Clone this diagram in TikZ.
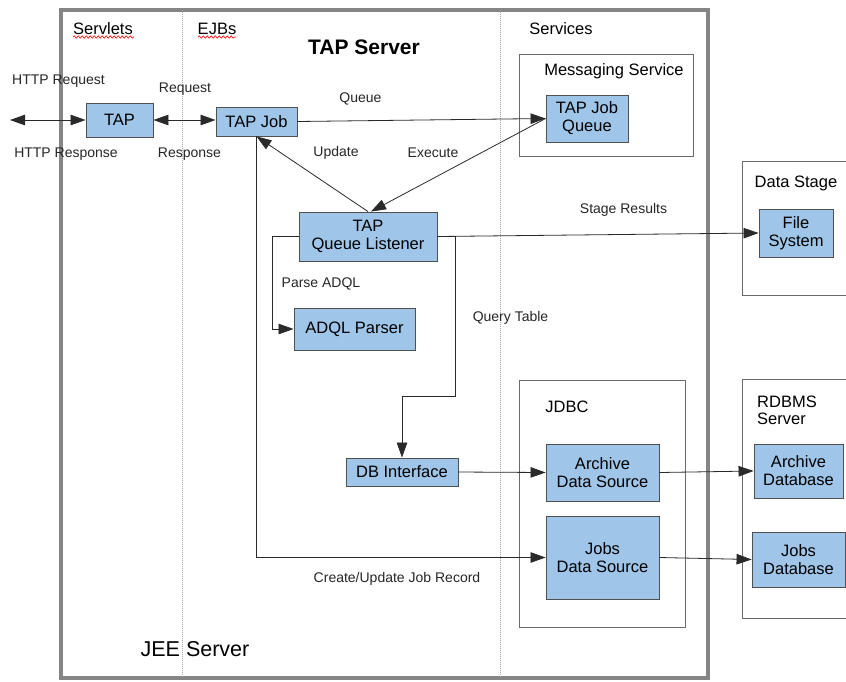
\documentclass[tikz,border=0pt]{standalone}
\usepackage{fontspec}
\setmainfont{Liberation Sans}
\usetikzlibrary{arrows.meta,decorations.pathmorphing}

\definecolor{boxblue}{HTML}{9FC5E8}
\definecolor{boxline}{HTML}{505050}
\definecolor{frameline}{HTML}{6A6A6A}
\definecolor{outerline}{HTML}{858585}
\definecolor{wireline}{HTML}{2A2A2A}

\tikzset{
  comp/.style={draw=boxline, fill=boxblue, line width=0.9pt, inner sep=1pt,
               align=center, font=\fontsize{16.5}{18}\selectfont},
  holder/.style={draw=frameline, line width=0.8pt, inner sep=0pt},
  heading/.style={font=\fontsize{16.5}{19}\selectfont, inner sep=0pt},
  tag/.style={font=\fontsize{14}{16}\selectfont, text=black!85, inner sep=0pt},
  wire/.style={draw=wireline, line width=0.8pt},
  arr/.style={wire, -{Triangle[length=15pt,width=10.5pt]}},
  biarr/.style={wire, {Triangle[length=15pt,width=10.5pt]}-{Triangle[length=15pt,width=10.5pt]}},
  divider/.style={draw=gray!70, line width=0.8pt, dash pattern=on 1pt off 1pt},
  spell/.style={draw=red!90, line width=0.7pt,
                decorate, decoration={snake, segment length=4pt, amplitude=1.1pt}}
}

\begin{document}
\begin{tikzpicture}[x=1pt, y=-1pt]
  \clip (0,0) rectangle (846,681);
  \fill[white] (0,0) rectangle (846,681);

  % application server frame and column dividers
  \node[draw=outerline, line width=4pt, minimum width=647pt, minimum height=668pt,
        inner sep=0pt] (jee) at (384.5,344) {};
  \draw[divider] (182,10) -- (182,678);
  \draw[divider] (500,10) -- (500,678);

  % column headings
  \node[heading] (servlets) at (103,29) {Servlets};
  \node[heading] (ejbs) at (217,29) {EJBs};
  \node[heading] (services) at (561,29) {Services};
  \node[font=\bfseries\fontsize{21}{24}\selectfont, inner sep=0pt] (tapsrv) at (364,47) {TAP Server};
  \node[font=\fontsize{21.5}{24}\selectfont, inner sep=0pt] (jeelbl) at (195,649) {JEE Server};
  \draw[spell] (73,37) -- (134,37);
  \draw[spell] (198,37) -- (236,37);

  % service containers
  \node[holder, minimum width=174pt, minimum height=102pt] (msg) at (606,105) {};
  \node[heading] (msglbl) at (614,71) {Messaging Service};
  \node[holder, minimum width=166pt, minimum height=247pt] (jdbc) at (602,503.5) {};
  \node[heading] (jdbclbl) at (567,407) {JDBC};
  \node[holder, minimum width=128pt, minimum height=134pt] (stage) at (806,228) {};
  \node[heading] (stagelbl) at (796,183) {Data Stage};
  \node[holder, minimum width=128pt, minimum height=239pt] (rdbms) at (806,498.5) {};
  \node[heading, align=left, anchor=west, font=\fontsize{16.5}{17}\selectfont] (rdbmslbl) at (757,410.5) {RDBMS\\Server};

  % components
  \node[comp, minimum width=67pt, minimum height=34pt] (tap) at (119.5,120) {TAP};
  \node[comp, minimum width=81pt, minimum height=29pt] (tapjob) at (256.5,121.5) {TAP Job};
  \node[comp, minimum width=82pt, minimum height=47pt] (jobq) at (587,118.5) {TAP Job\\Queue};
  \node[comp, minimum width=138pt, minimum height=49pt] (listener) at (368,236.5) {TAP\\Queue Listener};
  \node[comp, minimum width=121pt, minimum height=42pt] (adql) at (354.5,329) {ADQL Parser};
  \node[comp, minimum width=112pt, minimum height=28pt] (dbi) at (402,472) {DB Interface};
  \node[comp, minimum width=113pt, minimum height=57pt] (archds) at (602.5,472.5) {Archive\\Data Source};
  \node[comp, minimum width=113pt, minimum height=83pt] (jobsds) at (602.5,557.5) {Jobs\\Data Source};
  \node[comp, minimum width=74pt, minimum height=48pt] (fs) at (796,233) {File\\System};
  \node[comp, minimum width=89pt, minimum height=54pt] (archdb) at (798.5,471) {Archive\\Database};
  \node[comp, minimum width=93pt, minimum height=55pt] (jobsdb) at (798.5,559.5) {Jobs\\Database};

  % connectors
  \coordinate (client) at (10,120);
  \draw[biarr] (client) -- (tap.west);
  \draw[biarr] (tap.east) -- (tap.east -| tapjob.west);
  \draw[arr] (tapjob.east) -- (jobq.west);
  \draw[arr] (listener.north) -- (tapjob.south);
  \draw[arr] (jobq.west) -- ([xshift=3pt]listener.north);
  \draw[arr] (tapjob.south) -- (tapjob.south |- jobsds.west) -- (jobsds.west);
  \draw[arr] (listener.west) -- ++(-26,0) |- (adql.west);
  \draw[arr] (listener.east) -- ++(18,0) -- ++(0,160) -| (dbi.north);
  \draw[arr] (listener.east) -- (fs.west);
  \draw[arr] (dbi.east) -- (archds.west);
  \draw[arr] (archds.east) -- (archdb.west);
  \draw[arr] (jobsds.east) -- (jobsdb.west);

  % connector labels
  \node[tag] (lreq) at (58.5,81) {HTTP Request};
  \node[tag] (lresp) at (66,154) {HTTP Response};
  \node[tag] (lreq2) at (185,89) {Request};
  \node[tag] (lresp2) at (189.5,154) {Response};
  \node[tag] (lqueue) at (360.5,99) {Queue};
  \node[tag] (lupd) at (336,153) {Update};
  \node[tag] (lexec) at (433,153) {Execute};
  \node[tag] (lstage) at (623.5,210) {Stage Results};
  \node[tag] (lparse) at (321,284) {Parse ADQL};
  \node[tag] (lquery) at (510.5,318) {Query Table};
  \node[tag] (lrec) at (397,579) {Create/Update Job Record};
\end{tikzpicture}
\end{document}
